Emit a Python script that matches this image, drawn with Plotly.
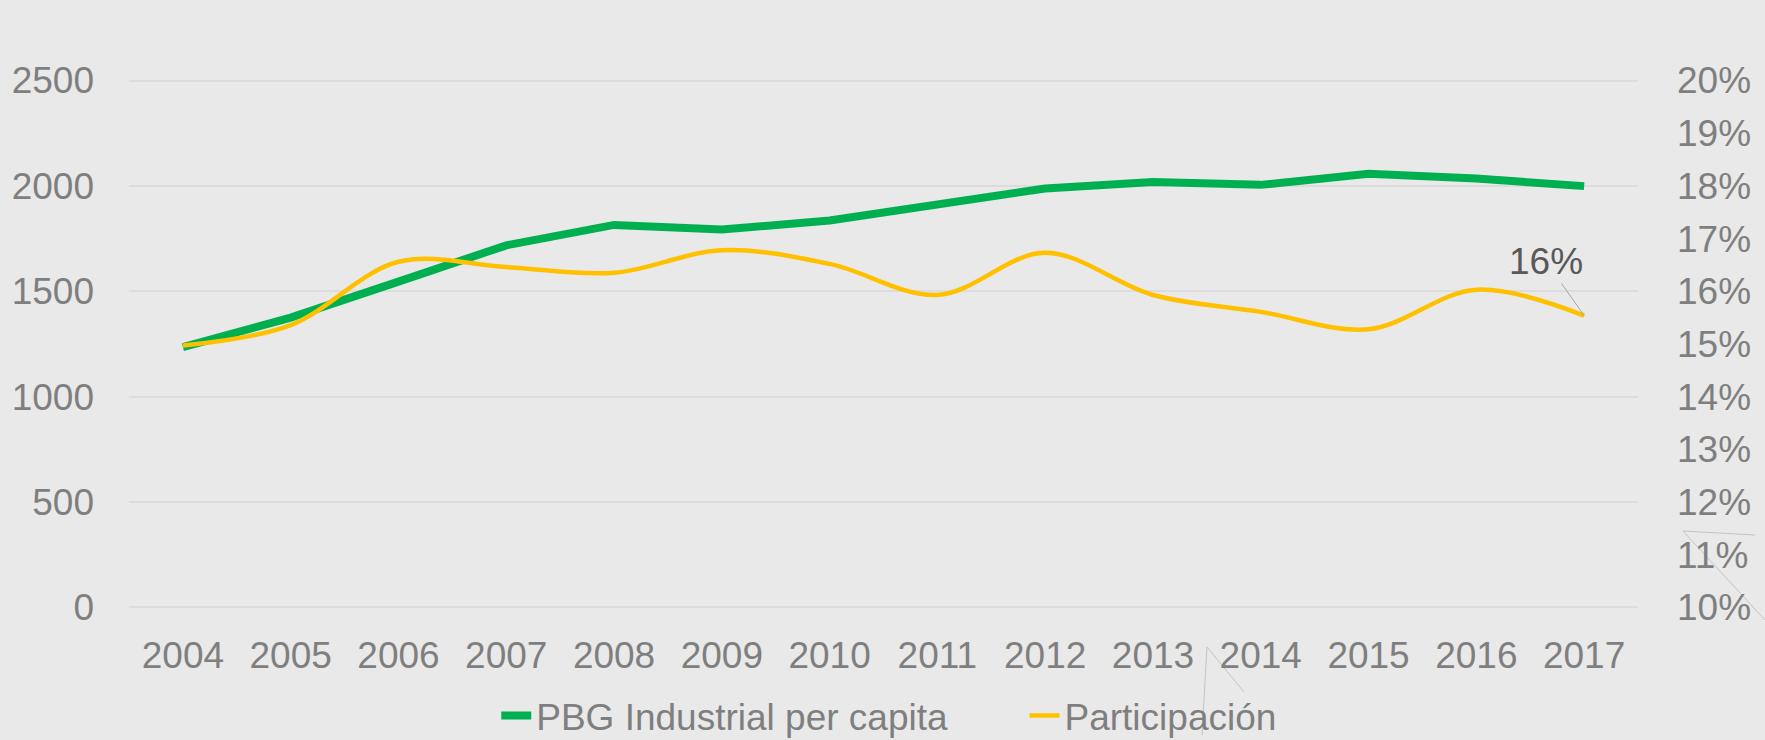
import plotly.graph_objects as go

years = ["2004", "2005", "2006", "2007", "2008", "2009", "2010",
         "2011", "2012", "2013", "2014", "2015", "2016", "2017"]
pbg_per_capita = [1235, 1375, 1546, 1718, 1815, 1793, 1836,
                  1908, 1988, 2018, 2005, 2058, 2035, 1999]
participacion = [14.97, 15.36, 16.56, 16.46, 16.35, 16.78, 16.52,
                 15.93, 16.73, 15.93, 15.61, 15.28, 16.03, 15.54]

left_ticks = [0, 500, 1000, 1500, 2000, 2500]
right_ticks = [10, 11, 12, 13, 14, 15, 16, 17, 18, 19, 20]
right_labels = [f"{v}%" for v in right_ticks]

FONT = "Liberation Sans, Arial, sans-serif"
TICK_COLOR = "#7f7f7f"
BG = "#e9e9e9"
NBSP = "\u00a0"

W, H = 1765, 740
ML, MR, MT, MB = 129, 127, 78, 130
PW, PH = W - ML - MR, H - MT - MB

fig = go.Figure()
fig.add_trace(go.Scatter(
    x=years, y=pbg_per_capita, name="PBG Industrial per capita" + NBSP * 7,
    mode="lines", line=dict(color="#00b050", width=8),
    yaxis="y"))
fig.add_trace(go.Scatter(
    x=years, y=participacion, name="Participación",
    mode="lines", line=dict(color="#ffc000", width=4.5, shape="spline", smoothing=1.0),
    yaxis="y2"))

last = len(years) - 1
fig.add_annotation(
    x=last, y=participacion[last], yref="y2", xref="x",
    text=f"{round(participacion[last])}%",
    showarrow=True, arrowhead=0, arrowwidth=1, arrowcolor="#a6a6a6",
    ax=-38, ay=-54, font=dict(family=FONT, size=37, color="#595959"))

# faint decorative background strokes of the slide
deco = [((1683, 531), (1755, 535)), ((1683, 531), (1765, 620)),
        ((1207, 647), (1244, 692)), ((1207, 647), (1202, 735))]
for (x0, y0), (x1, y1) in deco:
    fig.add_shape(type="line", xref="paper", yref="paper",
                  x0=(x0 - ML) / PW, x1=(x1 - ML) / PW,
                  y0=(H - MB - y0) / PH, y1=(H - MB - y1) / PH,
                  line=dict(color="#c4c4c4", width=1), layer="below")

eps_l = 12.0
eps_r = eps_l * 10 / 2500

fig.update_layout(
    width=W, height=H,
    margin=dict(l=ML, r=MR, t=MT, b=MB, autoexpand=False),
    paper_bgcolor=BG, plot_bgcolor=BG,
    font=dict(family=FONT, size=37, color=TICK_COLOR),
    showlegend=True,
    legend=dict(orientation="h", x=0.5038, xanchor="center",
                yref="container", y=1 - 716 / H, yanchor="middle",
                font=dict(family=FONT, size=37, color=TICK_COLOR),
                bgcolor="rgba(0,0,0,0)", itemwidth=30, tracegroupgap=0),
    xaxis=dict(type="category", range=[-0.5, last + 0.5], showgrid=False,
               showline=False, zeroline=False, ticks="", automargin=False,
               tickfont=dict(family=FONT, size=37, color=TICK_COLOR),
               ticklabelstandoff=20),
    yaxis=dict(range=[-eps_l, 2500 + eps_l], tickvals=left_ticks, showgrid=True,
               gridcolor="#dcdcdc", gridwidth=1.5, zeroline=False, showline=False,
               automargin=False,
               tickfont=dict(family=FONT, size=37, color=TICK_COLOR),
               ticklabelstandoff=34),
    yaxis2=dict(range=[10 - eps_r, 20 + eps_r], tickvals=right_ticks, ticktext=right_labels,
                overlaying="y", side="right", showgrid=False, zeroline=False,
                showline=False, automargin=False,
                tickfont=dict(family=FONT, size=37, color=TICK_COLOR),
                ticklabelstandoff=38),
)

fig.write_html("out.html", config={"displayModeBar": False},
               post_script="document.body.style.margin='0';")
